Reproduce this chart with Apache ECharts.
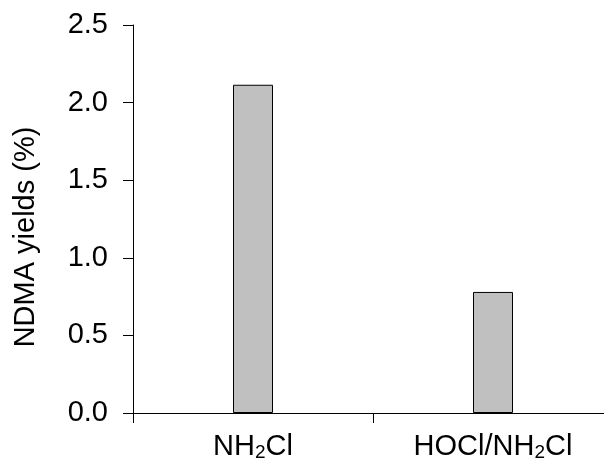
<!DOCTYPE html>
<html><head><meta charset="utf-8">
<script src="https://cdn.jsdelivr.net/npm/echarts@6/dist/echarts.min.js"></script>
<style>html,body{margin:0;padding:0;background:#fff}#c{width:604px;height:460px}</style>
</head><body><div id="c"></div>
<script>
const categories = ['NH2Cl', 'HOCl/NH2Cl'];
const categoryLabels = ['{a|NH}{s|2}{a|Cl}', '{a|HOCl/NH}{s|2}{a|Cl}'];
const ndmaYields = [2.115, 0.78];
const yTicks = [0, 0.5, 1.0, 1.5, 2.0, 2.5];
const yName = 'NDMA yields (%)';

const font = 'Liberation Sans, Arial, sans-serif';
const chart = echarts.init(document.getElementById('c'), null, {renderer: 'canvas'});
chart.setOption({
  animation: false,
  backgroundColor: '#fff',
  grid: {left: 133, top: 25, width: 480, height: 388, containLabel: false, outerBoundsMode: 'none'},
  xAxis: {
    type: 'category',
    data: categories,
    axisLine: {lineStyle: {color: '#000', width: 1}},
    axisTick: {show: true, length: 10, lineStyle: {color: '#000'}},
    axisLabel: {
      margin: 19,
      formatter: (v, i) => categoryLabels[i],
      rich: {
        a: {fontFamily: font, fontSize: 29, color: '#000'},
        s: {fontFamily: font, fontSize: 19, color: '#000', padding: [11, 0, 0, 0]}
      }
    }
  },
  yAxis: {
    type: 'value',
    min: yTicks[0], max: yTicks[yTicks.length - 1], interval: 0.5,
    name: yName,
    nameLocation: 'middle',
    nameGap: 93,
    nameRotate: 90,
    nameTextStyle: {fontFamily: font, fontSize: 29, color: '#000', padding: [0, 36, 0, 0]},
    axisLine: {show: true, lineStyle: {color: '#000', width: 1}},
    axisTick: {show: true, length: 10, lineStyle: {color: '#000'}},
    splitLine: {show: false},
    axisLabel: {
      margin: 25,
      fontFamily: font, fontSize: 29, color: '#000',
      formatter: v => v.toFixed(1)
    }
  },
  series: [{
    type: 'bar',
    data: ndmaYields,
    barWidth: 40,
    itemStyle: {color: '#c0c0c0', borderColor: '#000', borderWidth: 1}
  }]
});
</script></body></html>
